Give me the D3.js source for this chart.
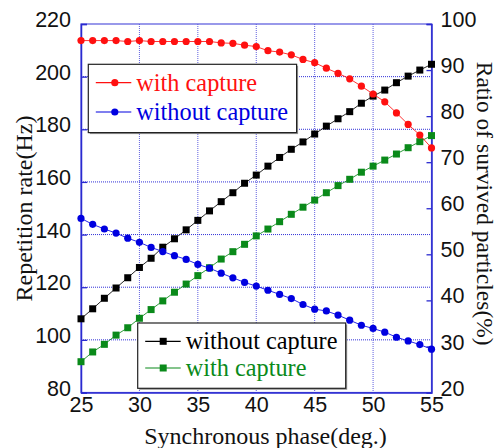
<!DOCTYPE html>
<html><head><meta charset="utf-8">
<script src="https://cdn.jsdelivr.net/npm/d3@7"></script>
<style>body{margin:0;background:#fff}</style>
</head><body><svg id="c" width="497" height="448"></svg>
<script>
const phase = [25,26,27,28,29,30,31,32,33,34,35,36,37,38,39,40,41,42,43,44,45,46,47,48,49,50,51,52,53,54,55];
// ratio of survived particles (%) - right axis
const ratioWithCapture = [96.4,96.4,96.4,96.4,96.2,96.4,96.2,96.2,96.2,96.2,96.2,96.2,95.9,95.8,95.4,95.1,94.2,93.9,93.3,92.3,91.6,90.4,89.3,88.1,86.5,84.8,83.1,80.7,78.2,75.9,73.1];
const ratioWithoutCapture = [57.8,56.5,55.5,54.6,53.5,52.6,51.5,50.6,49.7,48.9,47.8,47.0,45.9,44.9,43.9,43.1,42.2,41.3,40.4,39.1,38.1,37.7,36.8,35.7,34.6,33.9,33.1,32.0,31.2,30.4,29.4];
// repetition rate (Hz) - left axis
const rateWithoutCapture = [108.0,111.8,115.8,119.7,123.6,127.5,131.0,135.2,138.4,141.8,145.4,149.0,152.5,155.9,159.5,162.6,166.0,169.3,172.4,175.2,178.2,181.2,184.0,186.7,189.9,192.6,194.9,197.7,200.2,202.5,204.7];
const rateWithCapture = [91.7,95.4,98.3,101.8,104.6,108.2,111.5,114.8,118.1,121.2,124.4,127.4,130.7,133.5,136.3,139.5,142.1,144.9,147.7,150.4,153.1,155.9,158.6,161.0,163.7,166.0,168.3,170.6,173.0,175.3,177.6];
const xTicks = [25,30,35,40,45,50,55];
const leftTicks = [80,100,120,140,160,180,200,220];
const rightTicks = [20,30,40,50,60,70,80,90,100];

const svg = d3.select('#c');
const L=81, R=431.5, T=24, B=392.5;
const x = d3.scaleLinear().domain([25,55]).range([L,R]);
const yL = d3.scaleLinear().domain([80,220]).range([B,T]);
const yR = d3.scaleLinear().domain([20,100]).range([B,T]);
const axisBlue = '#2a2ad0';
const sans = "'Liberation Sans', Arial, sans-serif";
const serif = "'Liberation Serif', 'Times New Roman', serif";

// gridlines
const g = svg.append('g');
g.selectAll('.vg').data(xTicks.slice(1,-1)).join('line')
  .attr('x1',d=>x(d)).attr('x2',d=>x(d)).attr('y1',T).attr('y2',B)
  .attr('stroke','#6060e0').attr('stroke-width',1).attr('stroke-dasharray','1,1');
g.selectAll('.hg').data(leftTicks.slice(1,-1)).join('line')
  .attr('x1',L).attr('x2',R).attr('y1',d=>yL(d)).attr('y2',d=>yL(d))
  .attr('stroke','#3030d8').attr('stroke-width',1).attr('stroke-dasharray','1,1');

// frame
svg.append('rect').attr('x',L).attr('y',T).attr('width',R-L).attr('height',B-T)
  .attr('fill','none').attr('stroke','#5555dd').attr('stroke-width',1.2);

// axes
const axL = d3.axisLeft(yL).tickValues(leftTicks).tickSize(-6).tickPadding(10);
const axR = d3.axisRight(yR).tickValues(rightTicks).tickSize(-5).tickPadding(9);
const axB = d3.axisBottom(x).tickValues(xTicks).tickSize(0).tickPadding(0);
const gl = svg.append('g').attr('transform',`translate(${L},0)`).call(axL);
const gr = svg.append('g').attr('transform',`translate(${R},0)`).call(axR);
const gb = svg.append('g').attr('transform',`translate(0,${B})`).call(axB);
[gl,gr,gb].forEach(a=>{
  a.select('.domain').attr('stroke',axisBlue).attr('stroke-width',1.5);
  a.selectAll('.tick line').attr('stroke',axisBlue).attr('stroke-width',1.3);
  a.selectAll('text').attr('fill','#111').attr('font-family',sans).attr('font-size',21.5);
});
gl.selectAll('text').attr('dy','0.12em');
gr.selectAll('text').attr('dy','0.12em');
gb.selectAll('text').attr('dy','0').attr('y',19);
gb.selectAll('.tick line').remove();

// series
function series(vals, scale, color, shape){
  const pts = phase.map((p,i)=>[x(p), scale(vals[i])]);
  svg.append('path').attr('d', d3.line()(pts)).attr('fill','none')
    .attr('stroke',color).attr('stroke-width',1).attr('opacity',0.85);
  if(shape==='circle'){
    svg.append('g').selectAll('circle').data(pts).join('circle')
      .attr('cx',d=>d[0]).attr('cy',d=>d[1]).attr('r',3.6).attr('fill',color);
  } else {
    svg.append('g').selectAll('rect').data(pts).join('rect')
      .attr('x',d=>d[0]-3.5).attr('y',d=>d[1]-3.5).attr('width',7).attr('height',7).attr('fill',color);
  }
}
series(rateWithoutCapture, yL, '#000000', 'square');
series(rateWithCapture, yL, '#0a8a1a', 'square');
series(ratioWithoutCapture, yR, '#0000e0', 'circle');
series(ratioWithCapture, yR, '#ff1010', 'circle');

// legends
function legend(x0,y0,w,h,items,shape){
  const lg = svg.append('g');
  lg.append('rect').attr('x',x0+1.5).attr('y',y0+1.5).attr('width',w).attr('height',h).attr('fill','#999');
  lg.append('rect').attr('x',x0).attr('y',y0).attr('width',w).attr('height',h)
    .attr('fill','#fff').attr('stroke','#222').attr('stroke-width',1.2);
  items.forEach((it,i)=>{
    const yy = it.y;
    lg.append('line').attr('x1',x0+7.5).attr('x2',x0+43).attr('y1',yy).attr('y2',yy)
      .attr('stroke',it.color).attr('stroke-width',1.2);
    if(shape==='circle') lg.append('circle').attr('cx',x0+26.5).attr('cy',yy).attr('r',3.6).attr('fill',it.color);
    else lg.append('rect').attr('x',x0+25.5-3.5).attr('y',yy-3.5).attr('width',7).attr('height',7).attr('fill',it.color);
    lg.append('text').attr('x',x0+48).attr('y',yy+8).text(it.label)
      .attr('fill',it.color).attr('font-family',serif).attr('font-size',24.3);
  });
}
legend(88.3,64.3,208.3,68.3,[
  {label:'with capture', color:'#ff1010', y:82.7},
  {label:'without capture', color:'#0000e0', y:112}
],'circle');
legend(137.7,323,208,65.3,[
  {label:'without capture', color:'#000000', y:341.3},
  {label:'with capture', color:'#0a8a1a', y:368}
],'square');

// axis titles
svg.append('text').attr('transform',`translate(32,208.5) rotate(-90)`).attr('text-anchor','middle')
  .attr('font-family',serif).attr('font-size',24).attr('fill','#111').text('Repetition rate(Hz)');
svg.append('text').attr('transform',`translate(477,203.7) rotate(90)`).attr('text-anchor','middle')
  .attr('font-family',serif).attr('font-size',23.5).attr('fill','#111').text('Ratio of survived particles(%)');
svg.append('text').attr('x',265.5).attr('y',444).attr('text-anchor','middle')
  .attr('font-family',serif).attr('font-size',24).attr('fill','#111').text('Synchronous phase(deg.)');
</script></body></html>
